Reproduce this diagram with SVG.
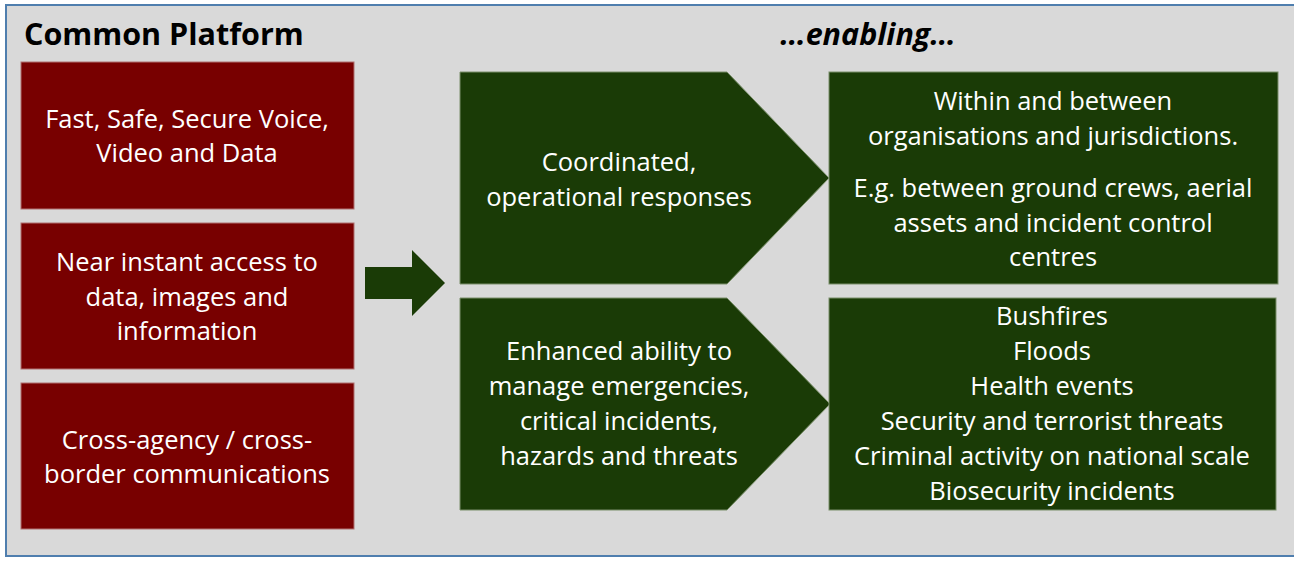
<svg xmlns="http://www.w3.org/2000/svg" width="1294" height="563" viewBox="0 0 1294 563">
<style>
.red{fill:#780000;stroke:#b07070;stroke-width:1}
.grn{fill:#1a3b06;stroke:#7a8f6a;stroke-width:1}
.t{font-family:"Open Sans",Lato,sans-serif;font-size:25.5px;fill:#ffffff;text-anchor:middle}
.h{font-family:"Open Sans",Lato,sans-serif;font-weight:bold;font-size:30.5px;fill:#000}
</style>
<rect x="6" y="5" width="1300" height="551" fill="#d9d9d9" stroke="#4f7eae" stroke-width="2"/>
<text class="h" x="24" y="45">Common Platform</text>
<text class="h" x="868" y="45" text-anchor="middle" font-style="italic" font-size="34.5px">…enabling…</text>
<g id="n1"><rect class="red" x="21" y="62" width="333" height="147"/>
<text class="t" x="187" y="128">Fast, Safe, Secure Voice,</text><text class="t" x="187" y="162">Video and Data</text></g>
<g id="n2"><rect class="red" x="21" y="223" width="333" height="146"/>
<text class="t" x="187" y="271">Near instant access to</text><text class="t" x="187" y="306">data, images and</text><text class="t" x="187" y="340">information</text></g>
<g id="n3"><rect class="red" x="21" y="383" width="333" height="146"/>
<text class="t" x="187" y="449">Cross-agency / cross-</text><text class="t" x="187" y="483">border communications</text></g>
<g id="connectors"><polygon points="365,267 412,267 412,250 445,283 412,316 412,299 365,299" fill="#1a3b06"/></g>
<g id="n4"><polygon class="grn" points="460,72 727,72 829,178 727,284 460,284"/>
<text class="t" x="619" y="171">Coordinated,</text><text class="t" x="619" y="206">operational responses</text></g>
<g id="n5"><polygon class="grn" points="460,298 727,298 830,404 727,510 460,510"/>
<text class="t" x="619" y="360">Enhanced ability to</text><text class="t" x="619" y="395">manage emergencies,</text><text class="t" x="619" y="430">critical incidents,</text><text class="t" x="619" y="465">hazards and threats</text></g>
<g id="n6"><rect class="grn" x="829" y="72" width="449" height="212"/>
<text class="t" x="1053" y="110">Within and between</text><text class="t" x="1053" y="145">organisations and jurisdictions.</text><text class="t" x="1053" y="197">E.g. between ground crews, aerial</text><text class="t" x="1053" y="232">assets and incident control</text><text class="t" x="1053" y="266">centres</text></g>
<g id="n7"><rect class="grn" x="829" y="298" width="447" height="212"/>
<text class="t" x="1052" y="325">Bushfires</text><text class="t" x="1052" y="360">Floods</text><text class="t" x="1052" y="395">Health events</text><text class="t" x="1052" y="430">Security and terrorist threats</text><text class="t" x="1052" y="465">Criminal activity on national scale</text><text class="t" x="1052" y="500">Biosecurity incidents</text></g>
</svg>
